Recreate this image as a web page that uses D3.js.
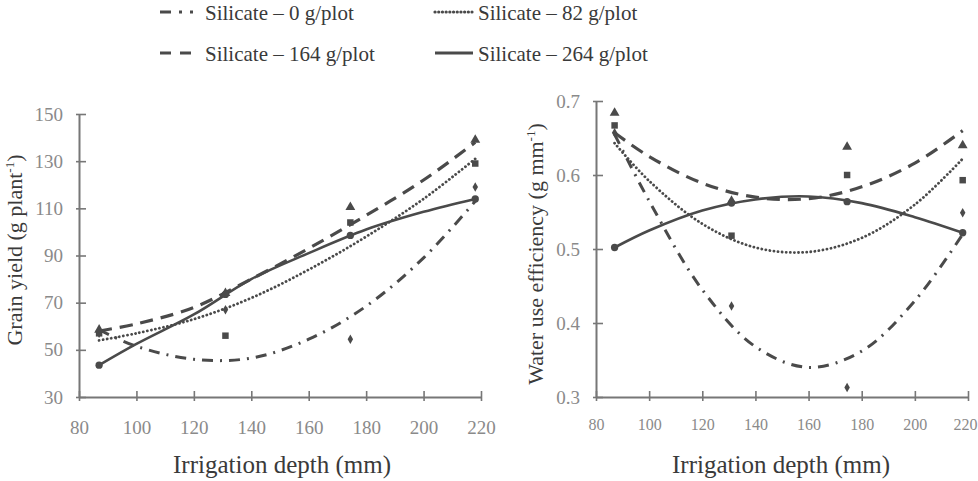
<!DOCTYPE html>
<html>
<head>
<meta charset="utf-8">
<script src="https://cdn.jsdelivr.net/npm/d3@7"></script>
<style>
  body { margin: 0; background: #fff; }
  svg text { font-family: 'Liberation Serif', 'Times New Roman', serif; }
</style>
</head>
<body>
<svg id="chart" width="978" height="481"></svg>
<script>
const depthObs = [87, 131, 174.5, 218];
const depthFit = [87, 100, 120, 140, 160, 180, 200, 218];
const depthTicks = [80, 100, 120, 140, 160, 180, 200, 220];
const yieldTicks = [30, 50, 70, 90, 110, 130, 150];
const wueTicks = [0.3, 0.4, 0.5, 0.6, 0.7];

const seriesNames = ["Silicate – 0 g/plot", "Silicate – 82 g/plot", "Silicate – 164 g/plot", "Silicate – 264 g/plot"];

// Grain yield (g plant-1)
const yieldObs0 = [57, 67, 54.5, 119];
const yieldObs82 = [57, 56, 104, 129];
const yieldObs164 = [58.5, 74, 110.5, 139];
const yieldObs264 = [43.5, 73.5, 98.5, 114];
const yieldFit0 = [58.5, 51.5, 46, 46.5, 54.5, 68.5, 89, 113];
const yieldFit82 = [54, 57, 63, 72, 84, 98, 114, 131];
const yieldFit164 = [58, 61, 68, 80, 93, 107, 122, 138];
const yieldFit264 = [43.5, 52.5, 65, 80, 91, 101, 108.5, 114];

// Water use efficiency (g mm-1)
const wueObs0 = [0.657, 0.423, 0.313, 0.549];
const wueObs82 = [0.667, 0.518, 0.600, 0.593];
const wueObs164 = [0.684, 0.565, 0.638, 0.640];
const wueObs264 = [0.502, 0.562, 0.564, 0.522];
const wueFit0 = [0.655, 0.565, 0.445, 0.368, 0.340, 0.362, 0.430, 0.520];
const wueFit82 = [0.643, 0.592, 0.534, 0.502, 0.496, 0.515, 0.560, 0.622];
const wueFit164 = [0.657, 0.625, 0.589, 0.570, 0.568, 0.584, 0.616, 0.660];
const wueFit264 = [0.502, 0.525, 0.552, 0.567, 0.571, 0.562, 0.543, 0.522];

const svg = d3.select("#chart");
const serif = "'Liberation Serif', 'Times New Roman', serif";
const lineColor = "#4a4a4a";
const axisColor = "#777";

// line style per series: dash-dot, dotted, dashed, solid
const styles = [
  { dash: "11,7,2,7", width: 3, cap: "butt" },
  { dash: "0.1,4", width: 2.8, cap: "round" },
  { dash: "13,8", width: 3.2, cap: "butt" },
  { dash: null, width: 2.6, cap: "butt" }
];
const symbols = [d3.symbolDiamond, d3.symbolSquare, d3.symbolTriangle, d3.symbolCircle];

function drawPanel(opt) {
  const x = d3.scaleLinear().domain([80, 220]).range(opt.xRange);
  const y = d3.scaleLinear().domain(opt.yDomain).range(opt.yRange);
  const g = svg.append("g");

  // y axis
  const yAxis = g.append("g")
      .attr("transform", `translate(${opt.xRange[0]},0)`)
      .call(d3.axisLeft(y).tickValues(opt.yTicks).tickFormat(opt.yFormat).tickSizeOuter(0).tickPadding(opt.yPad));
  yAxis.selectAll(".tick line").attr("x1", -3).attr("x2", 7);

  // x axis
  const xAxis = g.append("g")
      .attr("transform", `translate(0,${opt.yRange[0]})`)
      .call(d3.axisBottom(x).tickValues(depthTicks).tickSizeOuter(0).tickPadding(opt.xPad));
  xAxis.selectAll(".tick line").attr("y1", -6).attr("y2", 4);

  [yAxis, xAxis].forEach(a => {
    a.attr("font-family", "Liberation Serif");
    a.select(".domain").attr("stroke", axisColor).attr("stroke-width", 2);
    a.selectAll(".tick line").attr("stroke", axisColor).attr("stroke-width", 1.6);
    a.selectAll(".tick text").attr("fill", "#8a8a8a").style("font-family", serif);
  });
  yAxis.selectAll(".tick text").attr("font-size", opt.yFont);
  xAxis.selectAll(".tick text").attr("font-size", opt.xFont);
  // keep the last label inside the picture
  xAxis.selectAll(".tick text").filter(d => d === 220).attr("dx", opt.lastDx);

  // fitted curves
  const line = d3.line()
      .x((d, i) => x(depthFit[i]))
      .y(d => y(d))
      .curve(d3.curveCatmullRom.alpha(0.5));
  opt.fits.forEach((f, i) => {
    g.append("path")
        .attr("d", line(f))
        .attr("fill", "none")
        .attr("stroke", lineColor)
        .attr("stroke-width", styles[i].width)
        .attr("stroke-linecap", styles[i].cap)
        .attr("stroke-dasharray", styles[i].dash);
  });

  // observed points
  opt.obs.forEach((o, i) => {
    g.selectAll(null)
      .data(o)
      .enter().append("path")
        .attr("d", d3.symbol().type(symbols[i]).size(i === 0 ? 26 : 42))
        .attr("transform", (d, j) => `translate(${x(depthObs[j])},${y(d)})`)
        .attr("fill", lineColor);
  });

  // axis titles
  g.append("text")
      .attr("x", opt.xTitlePos[0]).attr("y", opt.xTitlePos[1])
      .attr("text-anchor", "middle")
      .attr("font-size", 25)
      .attr("fill", "#3a3a3a")
      .style("font-family", serif)
      .text("Irrigation depth (mm)");

  const yt = g.append("text")
      .attr("transform", `translate(${opt.yTitlePos[0]},${opt.yTitlePos[1]}) rotate(-90)`)
      .attr("text-anchor", "middle")
      .attr("font-size", 22)
      .attr("fill", "#3a3a3a")
      .style("font-family", serif);
  yt.append("tspan").text(opt.yTitle);
  yt.append("tspan").attr("font-size", 13).attr("dy", -8).text("-1");
  yt.append("tspan").attr("dy", 8).text(")");
}

drawPanel({
  xRange: [79, 481], yRange: [397, 114], yDomain: [30, 150],
  yTicks: yieldTicks, yFormat: d3.format("d"), yPad: 10, xPad: 18,
  yFont: 19, xFont: 19, lastDx: 0,
  fits: [yieldFit0, yieldFit82, yieldFit164, yieldFit264],
  obs: [yieldObs0, yieldObs82, yieldObs164, yieldObs264],
  xTitlePos: [282, 473], yTitlePos: [22, 250], yTitle: "Grain yield (g plant"
});

drawPanel({
  xRange: [596, 968], yRange: [397, 101], yDomain: [0.3, 0.7],
  yTicks: wueTicks, yFormat: d3.format(".1f"), yPad: 10, xPad: 16,
  yFont: 19, xFont: 16, lastDx: -3,
  fits: [wueFit0, wueFit82, wueFit164, wueFit264],
  obs: [wueObs0, wueObs82, wueObs164, wueObs264],
  xTitlePos: [781, 473], yTitlePos: [543, 254], yTitle: "Water use efficiency (g mm"
});

// legend
const legendPos = [[160, 12, 205, 20], [435, 12, 478, 20], [160, 53, 205, 61], [435, 53, 478, 61]];
const legendLen = [37, 37, 35, 38];
const legend = svg.append("g");
seriesNames.forEach((name, i) => {
  const p = legendPos[i];
  legend.append("line")
      .attr("x1", p[0]).attr("x2", p[0] + legendLen[i])
      .attr("y1", p[1]).attr("y2", p[1])
      .attr("stroke", lineColor)
      .attr("stroke-width", i === 3 ? 3 : 3.2)
      .attr("stroke-linecap", styles[i].cap)
      .attr("stroke-dasharray", i === 0 ? "11,8,3,8,3,20" : i === 1 ? "0.1,3.6" : i === 2 ? "11,9" : null);
  legend.append("text")
      .attr("x", p[2]).attr("y", p[3])
      .attr("font-size", 21)
      .attr("fill", "#3a3a3a")
      .style("font-family", serif)
      .text(name);
});
</script>
</body>
</html>
